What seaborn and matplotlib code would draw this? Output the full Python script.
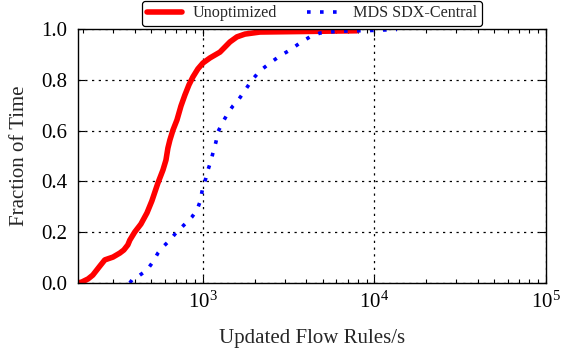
import numpy as np
import pandas as pd
import seaborn as sns
import matplotlib
matplotlib.use("Agg")
import matplotlib.pyplot as plt
from matplotlib.ticker import LogLocator, FixedLocator

# Data (CDF of updated flow rules/s)
unopt_x = [187, 197, 214, 228, 251, 268, 299, 328, 346, 365, 375, 401, 435, 472,
           504, 547, 585, 609, 625, 642, 669, 706, 745, 785, 829, 874, 935, 1000,
           1099, 1257, 1344, 1437, 1579, 1758, 2150, 3679, 7907]
unopt_y = [0.000, 0.004, 0.016, 0.031, 0.067, 0.091, 0.102, 0.118, 0.130, 0.150,
           0.169, 0.201, 0.232, 0.276, 0.323, 0.394, 0.445, 0.484, 0.531, 0.563,
           0.602, 0.642, 0.697, 0.740, 0.780, 0.811, 0.843, 0.866, 0.886, 0.909,
           0.929, 0.949, 0.969, 0.980, 0.988, 0.990, 0.993]
mds_x = [375, 386, 429, 472, 511, 547, 593, 642, 696, 754, 807, 863, 923, 961,
         1000, 1041, 1070, 1113, 1144, 1191, 1223, 1308, 1399, 1496, 1579, 1734,
         1931, 2150, 2459, 2812, 3216, 3679, 4207, 4811, 5885, 6916, 9416, 13530]
mds_y = [0.000, 0.012, 0.031, 0.051, 0.083, 0.118, 0.146, 0.169, 0.197, 0.220,
         0.240, 0.260, 0.287, 0.319, 0.378, 0.413, 0.445, 0.480, 0.512, 0.555,
         0.595, 0.634, 0.669, 0.697, 0.713, 0.752, 0.799, 0.835, 0.866, 0.894,
         0.917, 0.945, 0.969, 0.984, 0.990, 0.992, 0.994, 0.998]
series_names = ["Unoptimized", "MDS SDX-Central"]
y_ticks = [0.0, 0.2, 0.4, 0.6, 0.8, 1.0]
x_label = "Updated Flow Rules/s"
y_label = "Fraction of Time"

sns.set_style("ticks")
plt.rcParams["font.family"] = ["Liberation Serif", "DejaVu Serif"]
plt.rcParams["mathtext.fontset"] = "stix"

fig = plt.figure(figsize=(5.61, 3.49), dpi=100)
ax = fig.add_axes([78 / 561, 1 - 283 / 349, (546 - 78) / 561, (283 - 29) / 349])

sns.lineplot(x=unopt_x, y=unopt_y, ax=ax, color="#ff0000", lw=4.0,
             estimator=None, sort=False, label=series_names[0])
sns.lineplot(x=mds_x, y=mds_y, ax=ax, color="#0000ff", lw=2.6,
             estimator=None, sort=False, label=series_names[1])
ax.lines[0].set_solid_joinstyle("round")
ax.lines[1].set_linestyle((0, (1.0, 2.6)))

ax.set_xscale("log")
ax.set_xlim(187, 1e5)
ax.set_ylim(0, 1.0)
ax.yaxis.set_major_locator(FixedLocator(y_ticks))
ax.set_yticklabels([f"{v:.1f}" for v in y_ticks])
ax.xaxis.set_major_locator(LogLocator(base=10, numticks=10))
ax.xaxis.set_minor_locator(LogLocator(base=10, subs=np.arange(2, 10), numticks=20))

ax.tick_params(which="both", direction="in", top=True, right=True, labelsize=15,
               colors="black")
ax.tick_params(which="major", length=5, width=0.8)
ax.tick_params(which="minor", length=3, width=0.8)
ax.tick_params(axis="x", which="major", pad=6)
ax.tick_params(axis="y", which="major", pad=7.5)
for s in ax.spines.values():
    s.set_linewidth(1.0)
    s.set_color("black")

ax.grid(True, which="major", color="black", linestyle=(0, (1.8, 3.6)), linewidth=0.9)
ax.set_xlabel(x_label, fontsize=15, labelpad=12)
ax.set_ylabel(y_label, fontsize=15, labelpad=9)

leg = ax.legend(loc="lower center", bbox_to_anchor=(0.5, 1.0), ncol=2,
                fontsize=11.6, frameon=True, fancybox=True, edgecolor="black",
                framealpha=1, handlelength=2.2, handletextpad=0.66,
                columnspacing=1.86, borderpad=0.28, borderaxespad=0.2)
leg.get_frame().set_linewidth(0.9)

fig.savefig("out.png", dpi=100)
